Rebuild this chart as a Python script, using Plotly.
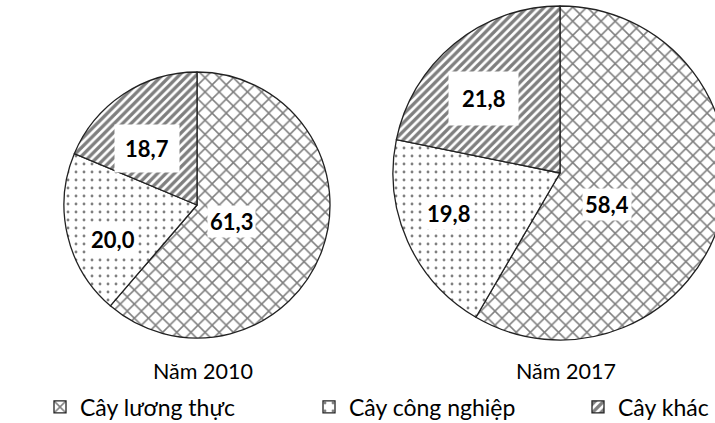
import math
import plotly.graph_objects as go

categories = ["Cây lương thực", "Cây công nghiệp", "Cây khác"]
years = ["Năm 2010", "Năm 2017"]
values_2010 = [61.3, 20.0, 18.7]
values_2017 = [58.4, 19.8, 21.8]

# ---- styling ----
W, H = 820, 423          # page is clipped to 715 px wide (right pie runs off the edge)
FONT = "Lato"
patterns = [
    dict(shape="x", size=10, solidity=0.28),
    dict(shape=".", size=8, solidity=0.1),
    dict(shape="/", size=6, solidity=0.55),
]
# pie geometry in pixels: center x, center y (from top), radius
geom = [(197, 205, 133), (560, 173, 167)]
label_frac = [[0.29, 0.68, 0.57], [0.34, 0.71, 0.64]]
label_shift_deg = [[5.6, -9.0, -7.6], [19.0, 4.4, -6.5]]
label_pad = [[2, 2, 10], [2, 2, 13]]
title_dx = 6
title_y = 371
legend_y = 407

fig = go.Figure()
annotations = []
for i, (vals, yr) in enumerate(zip([values_2010, values_2017], years)):
    cx, cy, r = geom[i]
    fig.add_trace(go.Pie(
        labels=categories,
        values=vals,
        sort=False,
        direction="clockwise",
        rotation=0,
        textinfo="none",
        hoverinfo="label+value",
        showlegend=(i == 0),
        domain=dict(x=[(cx - r) / W, (cx + r) / W],
                    y=[(H - cy - r) / H, (H - cy + r) / H]),
        marker=dict(
            colors=["white"] * 3,
            line=dict(color="#222222", width=1.3),
            pattern=dict(
                shape=[p["shape"] for p in patterns],
                size=[p["size"] for p in patterns],
                solidity=[p["solidity"] for p in patterns],
                fgcolor="black",
                bgcolor="white",
                fillmode="overlay",
            ),
        ),
    ))
    # value labels placed along each slice's mid angle
    total = sum(vals)
    cum = 0.0
    for j, v in enumerate(vals):
        mid = (cum + v / 2) / total * 2 * math.pi + math.radians(label_shift_deg[i][j])
        cum += v
        d = label_frac[i][j] * r
        px = cx + d * math.sin(mid)
        py = cy - d * math.cos(mid)
        annotations.append(dict(
            x=px / W, y=(H - py) / H, xref="paper", yref="paper",
            xanchor="center", yanchor="middle",
            text=f"<b>{v:.1f}</b>".replace(".", ","),
            showarrow=False, bgcolor="white", borderpad=label_pad[i][j],
            font=dict(family=FONT, size=22, color="black"),
        ))
    annotations.append(dict(
        x=(cx + title_dx) / W, y=(H - title_y) / H, xref="paper", yref="paper",
        xanchor="center", yanchor="middle",
        text=yr, showarrow=False,
        font=dict(family=FONT, size=21.5, color="black"),
    ))

fig.update_layout(
    width=W, height=H,
    margin=dict(l=0, r=0, t=0, b=0, autoexpand=False),
    paper_bgcolor="white",
    plot_bgcolor="white",
    annotations=annotations,
    legend=dict(
        orientation="h",
        x=40 / W, xanchor="left",
        y=(H - legend_y) / H, yanchor="middle",
        entrywidth=224, entrywidthmode="pixels",
        font=dict(family=FONT, size=23, color="black"),
        bgcolor="rgba(0,0,0,0)",
    ),
)

fig.write_html("out.html",
               post_script="document.body.style.margin='0';document.body.style.overflow='hidden';")
